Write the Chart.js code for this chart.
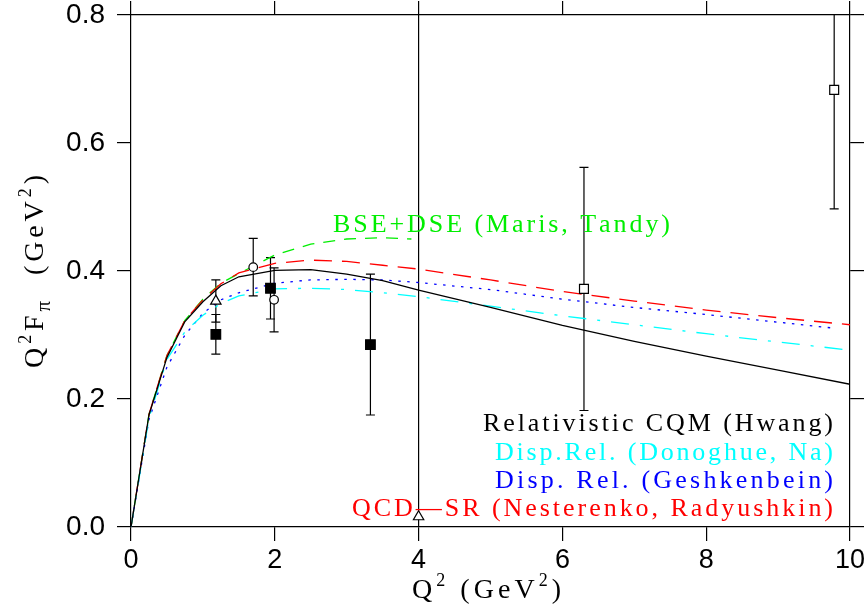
<!DOCTYPE html>
<html><head><meta charset="utf-8">
<script src="https://cdn.jsdelivr.net/npm/chart.js@4.4.0/dist/chart.umd.min.js"></script>
<style>html,body{margin:0;padding:0;background:#fff}#wrap{width:864px;height:606px}canvas{display:block}</style>
</head><body><div id="wrap"><canvas id="c" width="864" height="606"></canvas></div>
<script>
// ---- tick labels ----
const xTicks = [0, 2, 4, 6, 8, 10];
const yTicks = [0, 0.2, 0.4, 0.6, 0.8];

// ---- theory curves (Q^2 in GeV^2, Q^2 F_pi in GeV^2) ----
const q2Hwang = [0,0.25,0.5,0.75,1,1.25,1.5,2,2.5,3,3.5,4,5,6,7,8,9,10];
const hwang   = [0,0.175,0.265,0.321,0.352,0.377,0.391,0.401,0.402,0.395,0.385,0.370,0.343,0.315,0.290,0.267,0.245,0.223];

const q2Nest = [0,0.25,0.5,0.75,1,1.25,1.5,2,2.5,3,3.5,4,5,6,7,8,9,10];
const nesterenko = [0,0.176,0.268,0.323,0.355,0.380,0.397,0.412,0.417,0.415,0.409,0.403,0.386,0.368,0.353,0.339,0.327,0.316];

const q2Gesh = [0,0.25,0.5,0.75,1,1.25,1.5,2,2.5,3,3.5,4,5,6,7,8,9,9.75];
const geshkenbein = [0,0.168,0.250,0.300,0.334,0.355,0.366,0.381,0.386,0.387,0.386,0.382,0.371,0.356,0.343,0.332,0.320,0.311];

const q2Dono = [0,0.25,0.5,0.75,1,1.25,1.5,2,2.5,3,3.5,4,5,6,7,8,9,9.95];
const donoghue = [0,0.170,0.262,0.305,0.331,0.349,0.361,0.372,0.373,0.371,0.366,0.360,0.345,0.330,0.316,0.302,0.289,0.277];

const q2Maris = [0,0.25,0.5,0.75,1,1.25,1.5,2,2.5,3,3.5,3.9];
const maris = [0,0.176,0.268,0.323,0.356,0.381,0.396,0.425,0.442,0.450,0.452,0.450];

// ---- data points ----
const fsqX = [1.18, 1.94, 3.33];
const fsqY = [0.301, 0.373, 0.285];
const fsqE = [0.031, 0.048, 0.110];

const ocX = [1.70, 1.99];
const ocY = [0.406, 0.355];
const ocE = [0.045, 0.050];

const triX = [1.18, 4.0];
const triY = [0.353, 0.016];
const triE = [0.033, 0.90];

const osqX = [6.30, 9.78];
const osqY = [0.372, 0.683];
const osqE = [0.190, 0.186];

// ---- labels ----
const legendTexts = ['Relativistic CQM (Hwang)', 'Disp.Rel. (Donoghue, Na)', 'Disp. Rel. (Geshkenbein)', 'QCD\u2014SR (Nesterenko, Radyushkin)'];
const legendColors = ['#000000', '#00ffff', '#0000ff', '#ff0000'];
const marisLabel = 'BSE+DSE (Maris, Tandy)';

const zip = (xs, ys) => xs.map((v, i) => ({x: v, y: ys[i]}));
const SERIF = '"Liberation Serif", "DejaVu Serif", "Times New Roman", serif';
const SANS = '"Liberation Sans", Arial, sans-serif';

function curve(label, xs, ys, color, dash) {
  return {type: 'line', label, data: zip(xs, ys), borderColor: color, borderWidth: 1.3,
    borderDash: dash, pointRadius: 0, fill: false, tension: 0, xAxisID: 'x', yAxisID: 'y'};
}
function marks(label, xs, ys, style, radius, fill) {
  return {type: 'scatter', label, data: zip(xs, ys), pointStyle: style, pointRadius: radius,
    pointBackgroundColor: fill, pointBorderColor: '#000', pointBorderWidth: 1.2, showLine: false,
    xAxisID: 'x', yAxisID: 'y'};
}

const errGroups = [[fsqX, fsqY, fsqE], [ocX, ocY, ocE], [triX, triY, triE], [osqX, osqY, osqE]];

const errorBars = {
  id: 'errorBars',
  beforeDatasetsDraw(chart) {
    const {ctx, chartArea: a, scales: {x, y}} = chart;
    ctx.save();
    ctx.beginPath(); ctx.rect(a.left, a.top - 1, a.right - a.left, a.bottom - a.top + 1); ctx.clip();
    ctx.strokeStyle = '#000'; ctx.lineWidth = 1.2;
    for (const [xs, ys, es] of errGroups) {
      xs.forEach((xv, i) => {
        const px = x.getPixelForValue(xv);
        const t = y.getPixelForValue(ys[i] + es[i]);
        const b = y.getPixelForValue(ys[i] - es[i]);
        ctx.beginPath();
        ctx.moveTo(px, t); ctx.lineTo(px, b);
        ctx.moveTo(px - 4.5, t); ctx.lineTo(px + 4.5, t);
        ctx.moveTo(px - 4.5, b); ctx.lineTo(px + 4.5, b);
        ctx.stroke();
      });
    }
    ctx.restore();
  }
};

// draw text parts char by char, spread to a given total width
function drawSpread(ctx, parts, x0, baseY, width) {
  let natural = 0, n = 0;
  for (const p of parts) {
    ctx.font = p.size + 'px ' + SERIF;
    for (const ch of p.t) { natural += ctx.measureText(ch).width; n++; }
  }
  const sp = n > 1 ? (width - natural) / (n - 1) : 0;
  let xx = x0;
  ctx.textBaseline = 'alphabetic'; ctx.textAlign = 'left';
  for (const p of parts) {
    ctx.font = p.size + 'px ' + SERIF;
    for (const ch of p.t) { ctx.fillText(ch, xx, baseY + (p.dy || 0)); xx += ctx.measureText(ch).width + sp; }
  }
}

const texts = {
  id: 'texts',
  afterDraw(chart) {
    const {ctx} = chart;
    ctx.save();
    // legend block (right aligned at x = 833)
    const lefts = [483, 495, 495, 352];
    const bases = [431, 460, 488, 516];
    legendTexts.forEach((t, i) => {
      ctx.fillStyle = legendColors[i];
      drawSpread(ctx, [{t, size: 26}], lefts[i], bases[i], 833 - lefts[i]);
    });
    // Maris label
    ctx.fillStyle = '#00ee00';
    drawSpread(ctx, [{t: marisLabel, size: 26}], 333, 232, 337);
    // x title
    ctx.fillStyle = '#000';
    drawSpread(ctx, [{t: 'Q', size: 28}, {t: '2', size: 18, dy: -12}, {t: ' (GeV', size: 28}, {t: '2', size: 18, dy: -12}, {t: ')', size: 28}], 412, 598, 149);
    // y title
    ctx.translate(43, 272); ctx.rotate(-Math.PI / 2);
    drawSpread(ctx, [{t: 'Q', size: 28}, {t: '2', size: 18, dy: -12}, {t: 'F', size: 28}, {t: '\u03c0', size: 21, dy: 7}, {t: '  (GeV', size: 28}, {t: '2', size: 18, dy: -12}, {t: ')', size: 28}], -96, 0, 193);
    ctx.restore();
  }
};

const gridOpts = {drawOnChartArea: false, drawTicks: true, tickLength: 14, color: '#000', lineWidth: 1.2};
const borderOpts = {display: true, color: '#000', width: 1.2};
const noPadH = s => { s.paddingLeft = 0; s.paddingRight = 0; };
const noPadV = s => { s.paddingTop = 0; s.paddingBottom = 0; };

new Chart(document.getElementById('c'), {
  data: {
    datasets: [
      marks('filled squares', fsqX, fsqY, 'rect', 6.8, '#000'),
      marks('open circles', ocX, ocY, 'circle', 4.3, '#fff'),
      marks('triangles', triX, triY, 'triangle', 6, '#fff'),
      marks('open squares', osqX, osqY, 'rect', 6.3, '#fff'),
      curve('Relativistic CQM (Hwang)', q2Hwang, hwang, '#000000', []),
      curve('Disp.Rel. (Donoghue, Na)', q2Dono, donoghue, '#00ffff', [18, 11, 3, 11]),
      curve('Disp. Rel. (Geshkenbein)', q2Gesh, geshkenbein, '#0000ff', [2.5, 6.5]),
      curve('QCD-SR (Nesterenko, Radyushkin)', q2Nest, nesterenko, '#ff0000', [18, 10]),
      curve('BSE+DSE (Maris, Tandy)', q2Maris, maris, '#00ee00', [12, 9])
    ]
  },
  options: {
    responsive: false, animation: false, devicePixelRatio: 1,
    layout: {padding: 0},
    plugins: {legend: {display: false}, tooltip: {enabled: false}},
    scales: {
      x: {type: 'linear', position: 'bottom', min: 0, max: 10,
        afterBuildTicks: s => { s.ticks = xTicks.map(v => ({value: v})); },
        ticks: {font: {family: SANS, size: 27}, color: '#000', padding: 3, maxRotation: 0, autoSkip: false, callback: v => String(v)},
        grid: gridOpts, border: borderOpts, afterFit: s => { s.height = 79; noPadH(s); }},
      x2: {type: 'linear', position: 'top', min: 0, max: 10,
        afterBuildTicks: s => { s.ticks = xTicks.map(v => ({value: v})); },
        ticks: {display: false}, grid: gridOpts, border: borderOpts, afterFit: s => { s.height = 15; noPadH(s); }},
      y: {type: 'linear', position: 'left', min: 0, max: 0.8,
        afterBuildTicks: s => { s.ticks = yTicks.map(v => ({value: v})); },
        ticks: {font: {family: SANS, size: 28}, color: '#000', padding: 12, autoSkip: false, callback: v => v.toFixed(1)},
        grid: gridOpts, border: borderOpts, afterFit: s => { s.width = 131; noPadV(s); }},
      y2: {type: 'linear', position: 'right', min: 0, max: 0.8,
        afterBuildTicks: s => { s.ticks = yTicks.map(v => ({value: v})); },
        ticks: {display: false}, grid: gridOpts, border: borderOpts, afterFit: s => { s.width = 14; noPadV(s); }}
    }
  },
  plugins: [errorBars, texts]
});
</script>
</body></html>
